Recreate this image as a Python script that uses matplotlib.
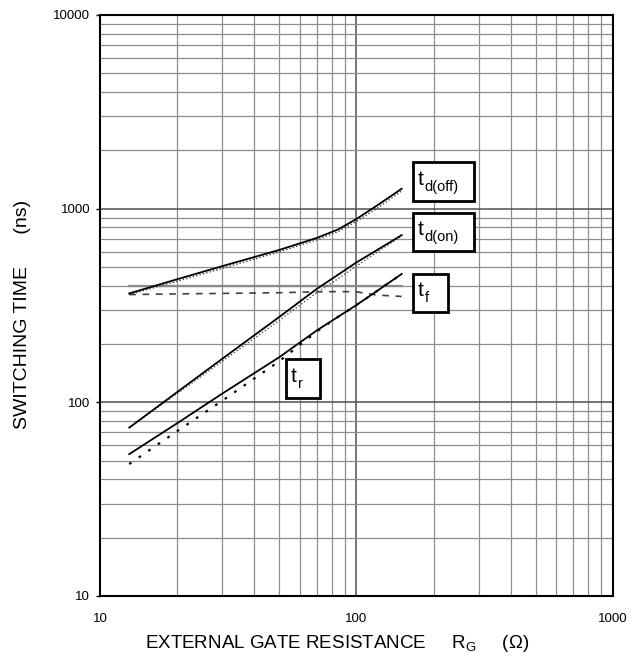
import matplotlib.pyplot as plt
from matplotlib.patches import Rectangle
from matplotlib.ticker import LogLocator, NullFormatter, FixedLocator

plt.rcParams["font.family"] = ["Liberation Sans", "DejaVu Sans"]
plt.rcParams["mathtext.default"] = "regular"

# gate resistance sample points (ohm)
rg = [13, 20, 30, 50, 70, 85, 100, 120, 150]

# switching times (ns): solid = typical, broken = second condition
td_off = [365, 432, 505, 612, 706, 782, 885, 1036, 1267]
td_off_b = [360, 422, 492, 598, 690, 762, 860, 1000, 1235]
td_on = [74, 113, 168, 276, 385, 457, 528, 610, 730]
td_on_b = [74, 111, 163, 265, 368, 436, 505, 595, 722]
tf = [400, 400, 400, 400, 400, 400, 400, 400, 400]
tf_b = [360, 363, 365, 368, 372, 373, 372, 358, 352]
tr = [54, 78, 111, 171, 235, 277, 318, 375, 460]
tr_b = [48, 71, 102, 163, 232, 277, 318, 375, 460]

x_ticks = [10, 100, 1000]
y_ticks = [10, 100, 1000, 10000]

fig = plt.figure(figsize=(6.41, 6.60), dpi=100)
ax = fig.add_axes([0.156, 0.097, 0.8003, 0.8803])
ax.set_xscale("log")
ax.set_yscale("log")
ax.set_xlim(10, 1000)
ax.set_ylim(10, 10000)

# log paper grid
ax.xaxis.set_minor_locator(LogLocator(base=10, subs=range(2, 10)))
ax.yaxis.set_minor_locator(LogLocator(base=10, subs=range(2, 10)))
ax.xaxis.set_minor_formatter(NullFormatter())
ax.yaxis.set_minor_formatter(NullFormatter())
ax.xaxis.set_major_locator(FixedLocator(x_ticks))
ax.yaxis.set_major_locator(FixedLocator(y_ticks))
ax.set_xticklabels([str(v) for v in x_ticks])
ax.set_yticklabels([str(v) for v in y_ticks])
ax.grid(which="minor", color="#8e8e8e", linewidth=0.9)
ax.grid(which="major", color="#505050", linewidth=1.1)
ax.set_axisbelow(True)
ax.tick_params(which="minor", length=0)
ax.tick_params(axis="x", which="major", length=0, pad=12, labelsize=9.5)
ax.tick_params(axis="y", which="major", length=3, width=1, pad=4, labelsize=9.5)
for spine in ax.spines.values():
    spine.set_linewidth(1.5)
    spine.set_color("black")

ax.plot(rg, tf, color="#8a8a8a", linewidth=1.6)
ax.plot(rg, tf_b, color="#404040", linewidth=1.2, linestyle=(0, (4, 4)))
ax.plot(rg, td_off_b, color="#404040", linewidth=1.0, linestyle=(0, (1, 1.5)))
ax.plot(rg, td_off, color="black", linewidth=1.3)
ax.plot(rg, td_on_b, color="#505050", linewidth=1.0, linestyle=(0, (1, 1.5)))
ax.plot(rg, td_on, color="black", linewidth=1.3)
ax.plot(rg, tr_b, color="black", linewidth=1.6, linestyle=(0, (1.2, 4)))
ax.plot(rg, tr, color="black", linewidth=1.3)

# boxed curve labels: subscript, box left, bottom, width, height (axes fraction)
labels = [
    ("d(off)", 0.6096, 0.6804, 0.1201, 0.0666),
    ("d(on)", 0.6096, 0.5938, 0.1201, 0.0654),
    ("f", 0.6096, 0.4888, 0.0682, 0.0654),
    ("r", 0.3620, 0.3413, 0.0668, 0.0666),
]
for sub, bx, by, bw, bh in labels:
    ax.add_patch(Rectangle((bx, by), bw, bh, transform=ax.transAxes,
                           facecolor="white", edgecolor="black",
                           linewidth=2, zorder=5))
    ax.text(bx + 0.0095, by + 0.0275, "t", transform=ax.transAxes,
            fontsize=15, ha="left", va="baseline", zorder=6)
    ax.text(bx + 0.0235, by + 0.0175, sub, transform=ax.transAxes,
            fontsize=10.5, ha="left", va="baseline", zorder=6)

ax.set_xlabel(r"EXTERNAL GATE RESISTANCE     $R_G$     (Ω)", fontsize=13.5)
ax.xaxis.set_label_coords(0.462, -0.063)
ax.set_ylabel("SWITCHING TIME      (ns)", fontsize=14)
ax.yaxis.set_label_coords(-0.134, 0.484)

fig.savefig("out.png", dpi=100)
